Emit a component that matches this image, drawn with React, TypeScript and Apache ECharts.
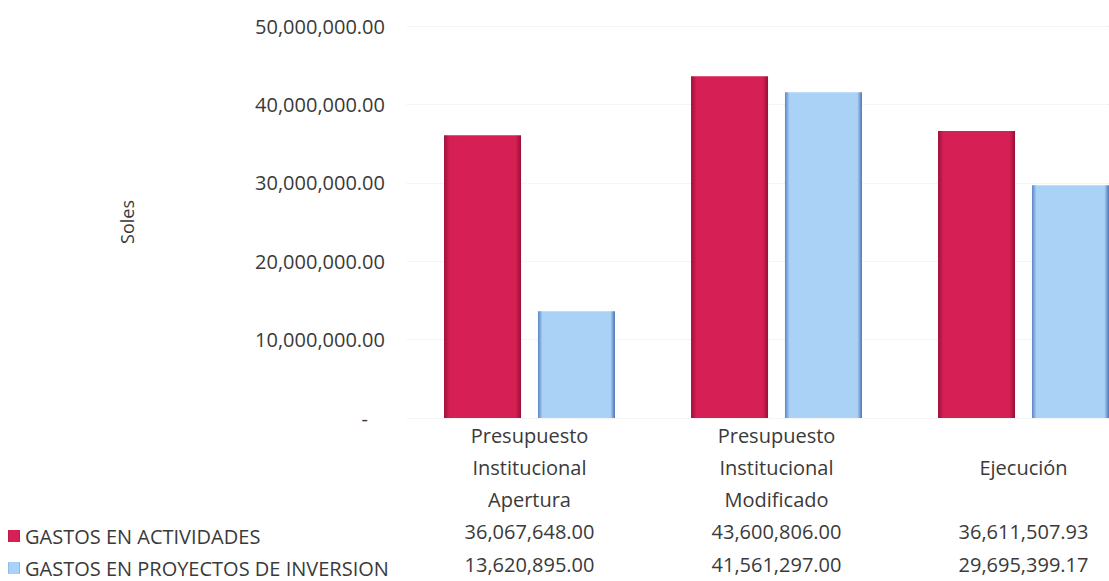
import React, { useEffect, useRef } from "react";
import * as echarts from "echarts";

const categories: string[][] = [
  ["Presupuesto", "Institucional", "Apertura"],
  ["Presupuesto", "Institucional", "Modificado"],
  [" ", "Ejecución", " "],
];
const seriesNames = ["GASTOS EN ACTIVIDADES", "GASTOS EN PROYECTOS DE INVERSION"];
const actividades = [36067648.0, 43600806.0, 36611507.93];
const proyectos = [13620895.0, 41561297.0, 29695399.17];
const yMin = 0;
const yMax = 50000000;
const yInterval = 10000000;

const fmt = (v: number) =>
  v.toLocaleString("en-US", { minimumFractionDigits: 2, maximumFractionDigits: 2 });

const FONT = "'Open Sans', 'Noto Sans', sans-serif";
const TXT = "#3a3a3a";

export default function App() {
  const ref = useRef<HTMLDivElement>(null);
  useEffect(() => {
    document.body.style.margin = "0";
    document.body.style.overflow = "hidden";
    if (!ref.current) return;
    const chart = echarts.init(ref.current, undefined, { renderer: "svg" });
    const redGrad = new echarts.graphic.LinearGradient(0, 0, 1, 0, [
      { offset: 0, color: "#9e1038" },
      { offset: 0.07, color: "#d51f55" },
      { offset: 0.93, color: "#d51f55" },
      { offset: 1, color: "#9a0f36" },
    ]);
    const blueGrad = new echarts.graphic.LinearGradient(0, 0, 1, 0, [
      { offset: 0, color: "#5a85c6" },
      { offset: 0.06, color: "#aad2f6" },
      { offset: 0.94, color: "#aad2f6" },
      { offset: 1, color: "#4c74b4" },
    ]);
    chart.setOption({
      animation: false,
      textStyle: { fontFamily: FONT },
      legend: {
        orient: "vertical",
        left: 8,
        top: 526,
        padding: 0,
        itemWidth: 12,
        itemHeight: 12,
        itemGap: 12,
        icon: "rect",
        textStyle: { fontSize: 20, color: TXT, lineHeight: 20, fontFamily: FONT },
        data: seriesNames,
      },
      grid: { left: 406, top: 26, width: 741, height: 395, containLabel: false },
      xAxis: {
        type: "category",
        data: categories.map((c) => c.join("|")),
        axisLine: { show: false },
        axisTick: { show: false },
        axisLabel: {
          interval: 0,
          margin: 1,
          lineHeight: 32,
          fontSize: 20,
          color: TXT,
          fontFamily: FONT,
          formatter: (_v: string, i: number) => {
            const lines = categories[i].map((l) => `{c|${l}}`);
            lines.push(`{v|${fmt(actividades[i])}}`);
            lines.push(`{v|${fmt(proyectos[i])}}`);
            return lines.join("\n");
          },
          rich: {
            c: { fontSize: 20, lineHeight: 32, color: TXT, fontFamily: FONT },
            v: { fontSize: 20, lineHeight: 33, color: TXT, fontFamily: FONT },
          },
        },
      },
      yAxis: {
        type: "value",
        min: yMin,
        max: yMax,
        interval: yInterval,
        name: "Soles",
        nameLocation: "middle",
        nameRotate: 90,
        nameGap: 270,
        nameTextStyle: { fontSize: 18, color: TXT, fontFamily: FONT },
        axisLine: { show: false },
        axisTick: { show: false },
        splitLine: { lineStyle: { color: "#ececec", type: "dotted" } },
        axisLabel: {
          margin: 21,
          fontSize: 20,
          color: TXT,
          fontFamily: FONT,
          formatter: (v: number) => (v === 0 ? "{d|-}" : fmt(v)),
          rich: {
            d: { fontSize: 20, color: TXT, padding: [0, 17, 0, 0], fontFamily: FONT },
          },
        },
      },
      series: [
        {
          name: seriesNames[0],
          type: "bar",
          data: actividades,
          barWidth: 77,
          barGap: "22%",
          itemStyle: { color: redGrad },
        },
        {
          name: seriesNames[1],
          type: "bar",
          data: proyectos,
          barWidth: 77,
          itemStyle: { color: blueGrad },
        },
      ],
    });
    return () => chart.dispose();
  }, []);
  return <div ref={ref} style={{ width: 1148, height: 581 }} />;
}
